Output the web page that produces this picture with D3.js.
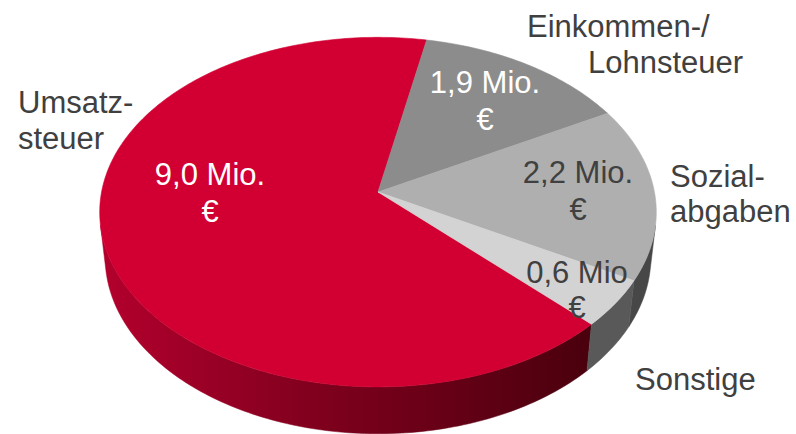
<!DOCTYPE html>
<html>
<head>
<meta charset="utf-8">
<script src="https://cdn.jsdelivr.net/npm/d3@7"></script>
<style>
  html, body { margin: 0; padding: 0; background: #fff; }
  svg { display: block; }
  text { font-family: "Liberation Sans", Arial, sans-serif; }
</style>
</head>
<body>
<svg id="chart" width="796" height="434"></svg>
<script>
// ---- data ----
const categories = ["Umsatzsteuer", "Einkommen-/Lohnsteuer", "Sozialabgaben", "Sonstige"];
const values = [9.0, 1.9, 2.2, 0.6];
const valueLabels = [["9,0 Mio.", "€"], ["1,9 Mio.", "€"], ["2,2 Mio.", "€"], ["0,6 Mio", "€"]];
const categoryLabels = [["Umsatz-", "steuer"], ["Einkommen-/", "Lohnsteuer"], ["Sozial-", "abgaben"], ["Sonstige"]];

// ---- styles / layout ----
const topColors = ["#D20032", "#8C8C8C", "#AFAFAF", "#D3D3D3"];
const wallColors = ["url(#redWall)", "#545454", "#474747", "#595959"];
const valueTextColors = ["#ffffff", "#ffffff", "#404040", "#404040"];
const valueLabelPos = [[210, 185, 222], [485, 93, 130], [578, 183, 220], [577, 283, 318]];
const categoryLabelPos = [[[18, 113], [18, 149]], [[527, 37], [588, 73]], [[670, 187], [670, 222]], [[635, 390]]];

const svg = d3.select("#chart");
const W = 796, H = 434;

// 3D projection parameters
const cx = 378, cy = 192;
const phi = 38.6 * Math.PI / 180;
const sinP = Math.sin(phi), cosP = Math.cos(phi);
const D = 6.79, F = 1877, h = 0.214;
function proj(u, v, z) {
  const depth = D + v * cosP - z * sinP;
  return [cx + F * u / depth, cy - F * (v * sinP + z * cosP) / depth];
}
function rim(theta, z) { return proj(Math.sin(theta), Math.cos(theta), z); }

const color = d3.scaleOrdinal().domain(categories).range(topColors);
const wallColor = d3.scaleOrdinal().domain(categories).range(wallColors);

const start = 134.8 * Math.PI / 180;
const pie = d3.pie().sort(null).value(d => d).startAngle(start).endAngle(start + 2 * Math.PI);
const arcs = pie(values);

// gradient for red wall
const defs = svg.append("defs");
const grad = defs.append("linearGradient").attr("id", "redWall")
  .attr("gradientUnits", "userSpaceOnUse").attr("x1", 100).attr("y1", 0).attr("x2", 600).attr("y2", 0);
grad.append("stop").attr("offset", 0).attr("stop-color", "#B3002D");
grad.append("stop").attr("offset", 0.45).attr("stop-color", "#7E001D");
grad.append("stop").attr("offset", 1).attr("stop-color", "#48000D");

const line = d3.line();
const visHalf = Math.acos(-1 / (D * cosP)); // visible wall from visHalf to 2π - visHalf
function samples(a, b) {
  const n = Math.max(2, Math.ceil((b - a) / (Math.PI / 180)));
  return d3.range(n + 1).map(i => a + (b - a) * i / n);
}

// walls
const wallG = svg.append("g");
arcs.forEach((d, i) => {
  [0, 2 * Math.PI].forEach(off => {
    const a = Math.max(d.startAngle, visHalf + off);
    const b = Math.min(d.endAngle, 2 * Math.PI - visHalf + off);
    if (b > a) {
      const ts = samples(a, b);
      const pts = ts.map(t => rim(t, 0)).concat(ts.slice().reverse().map(t => rim(t, -h)));
      wallG.append("path").attr("d", line(pts) + "Z")
        .attr("fill", wallColor(categories[i])).attr("stroke", wallColor(categories[i])).attr("stroke-width", 0.5);
    }
  });
});

// top faces
const topG = svg.append("g");
arcs.forEach((d, i) => {
  const pts = [proj(0, 0, 0)].concat(samples(d.startAngle, d.endAngle).map(t => rim(t, 0)));
  topG.append("path").attr("d", line(pts) + "Z")
    .attr("fill", color(categories[i])).attr("stroke", color(categories[i])).attr("stroke-width", 0.6);
});

// value labels
const valG = svg.append("g").attr("font-size", 31).attr("text-anchor", "middle");
valueLabels.forEach((lines, i) => {
  const p = valueLabelPos[i];
  lines.forEach((t, j) => {
    valG.append("text").attr("x", p[0]).attr("y", p[1 + j]).attr("fill", valueTextColors[i]).text(t);
  });
});

// category labels
const catG = svg.append("g").attr("font-size", 31).attr("fill", "#404040");
categoryLabels.forEach((lines, i) => {
  lines.forEach((t, j) => {
    const p = categoryLabelPos[i][j];
    catG.append("text").attr("x", p[0]).attr("y", p[1]).text(t);
  });
});
</script>
</body>
</html>
